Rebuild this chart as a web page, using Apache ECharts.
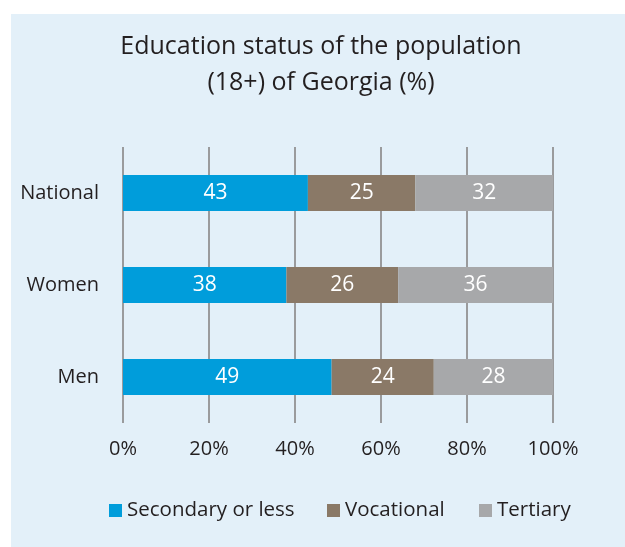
<!DOCTYPE html>
<html>
<head>
<meta charset="utf-8">
<script src="https://cdn.jsdelivr.net/npm/echarts@6/dist/echarts.min.js"></script>
<style>
  html, body { margin: 0; padding: 0; background: #ffffff; }
  #main { width: 625px; height: 547px; }
</style>
</head>
<body>
<div id="main"></div>
<script>
// data
var categories = ['Men', 'Women', 'National'];
var seriesNames = ['Secondary or less', 'Vocational', 'Tertiary'];
var secondary = [49, 38, 43];
var vocational = [24, 26, 25];
var tertiary = [28, 36, 32];

var myChart = echarts.init(document.getElementById('main'));

var font = '"Open Sans", "Noto Sans", sans-serif';
var ink = '#231f20';

function share(arr, i) {
  return arr[i] / (secondary[i] + vocational[i] + tertiary[i]);
}

function legendAt(name, left) {
  return {
    top: 500, left: left, padding: 0,
    itemWidth: 13, itemHeight: 13, icon: 'rect',
    textStyle: { fontFamily: font, fontSize: 20.5, color: ink },
    data: [name]
  };
}

var option = {
  backgroundColor: '#ffffff',
  animation: false,
  graphic: [{
    type: 'rect', z: -10, silent: true,
    shape: { x: 11, y: 14, width: 614, height: 533 },
    style: { fill: '#e3f0f9' }
  }],
  title: {
    text: 'Education status of the population\n(18+) of Georgia (%)',
    left: 316, top: 24, textAlign: 'center',
    textStyle: { fontFamily: font, fontSize: 25, fontWeight: 'normal', color: ink, lineHeight: 36 }
  },
  legend: [
    legendAt(seriesNames[0], 109),
    legendAt(seriesNames[1], 327),
    legendAt(seriesNames[2], 479)
  ],
  grid: { left: 123, right: 72, top: 147, bottom: 124, containLabel: false },
  xAxis: {
    type: 'value', min: 0, max: 1, interval: 0.2,
    axisLine: { show: false },
    axisTick: { show: false },
    splitLine: { show: true, lineStyle: { color: '#9a9b9d', width: 2 } },
    axisLabel: {
      margin: 16, fontFamily: font, fontSize: 20, color: ink,
      formatter: function (v) { return Math.round(v * 100) + '%'; }
    }
  },
  yAxis: {
    type: 'category', data: categories,
    axisLine: { show: false }, axisTick: { show: false },
    axisLabel: { margin: 24, fontFamily: font, fontSize: 20, color: ink }
  },
  series: [
    { name: seriesNames[0], type: 'bar', stack: 'a', barWidth: 36,
      itemStyle: { color: '#009ddb' },
      data: secondary.map(function (v, i) { return { value: share(secondary, i), raw: v }; }) },
    { name: seriesNames[1], type: 'bar', stack: 'a', barWidth: 36,
      itemStyle: { color: '#8a7967' },
      data: vocational.map(function (v, i) { return { value: share(vocational, i), raw: v }; }) },
    { name: seriesNames[2], type: 'bar', stack: 'a', barWidth: 36,
      itemStyle: { color: '#a7a8aa' },
      data: tertiary.map(function (v, i) { return { value: share(tertiary, i), raw: v }; }) }
  ]
};

option.series.forEach(function (s) {
  s.label = {
    show: true, position: 'inside', color: '#ffffff', fontSize: 21, fontFamily: font,
    formatter: function (p) { return p.data.raw; }
  };
});

myChart.setOption(option);
</script>
</body>
</html>
